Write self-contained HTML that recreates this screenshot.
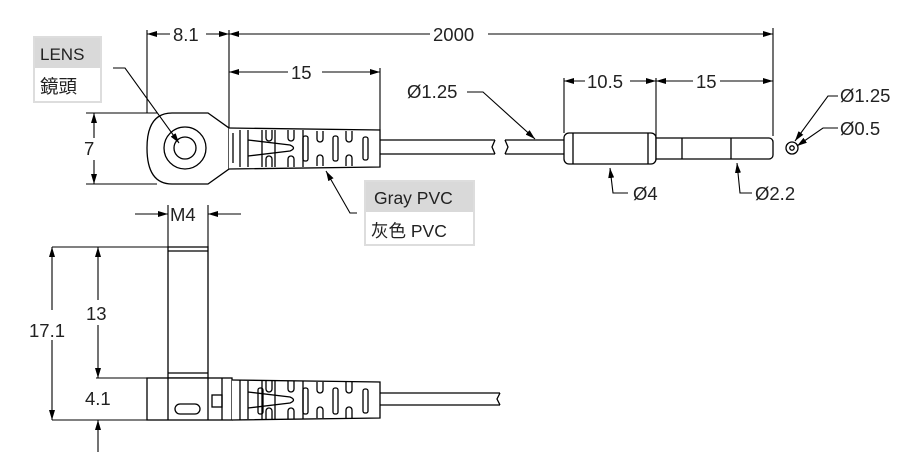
<!DOCTYPE html>
<html><head><meta charset="utf-8"><style>
html,body{margin:0;padding:0;background:#fff;}
svg{display:block;}
text{font-family:"Liberation Sans","Noto Sans CJK TC",sans-serif;fill:#222;}
</style></head><body>
<svg width="904" height="465" viewBox="0 0 904 465" xmlns="http://www.w3.org/2000/svg">
<defs>
<marker id="a" viewBox="0 0 10 6" refX="10" refY="3" markerWidth="10" markerHeight="6" orient="auto-start-reverse" markerUnits="userSpaceOnUse"><path d="M0,0 L10,3 L0,6 z" fill="#000"/></marker>
</defs>
<g stroke="#000" stroke-width="1.3" fill="none">
<!-- top view head -->
<path d="M172,113 L208,113 L229,128 L229,169 L208,184 L172,184 Q147,184 147,148 Q147,113 172,113 Z" fill="#fff"/>
<circle cx="185" cy="148" r="21"/>
<circle cx="185" cy="148" r="11"/>
<!-- boot top -->
<path d="M229,128 L380,130 L380,167 L229,169" fill="#fff"/>
<path d="M233,133 v30 M240,130 v37 M248,130 v37 M262,130 v37 M275,130 v37 M303,130 v37"/>
<path d="M248,140 L290,145 Q297,148 290,151 L248,156"/>
<path d="M266,130 v8 a3,3 0 0 0 6,0 v-8 M266,167 v-8 a3,3 0 0 1 6,0 v8 M288,130 v8 a3,3 0 0 0 6,0 v-8 M288,167 v-8 a3,3 0 0 1 6,0 v8 M317,131 v8 a3,3 0 0 0 6,0 v-8 M317,166 v-8 a3,3 0 0 1 6,0 v8 M346,131 v8 a3,3 0 0 0 6,0 v-8 M346,166 v-8 a3,3 0 0 1 6,0 v8"/>
<rect x="303" y="136" width="5" height="25" rx="2"/>
<rect x="333" y="136" width="5" height="25" rx="2"/>
<rect x="363" y="137" width="5" height="23" rx="2"/>
<!-- cable -->
<path d="M380,140 H495 M380,154 H495 M495,140 L492,147 L495,154"/>
<path d="M505,140 H564 M505,154 H564 M505,140 L508,147 L505,154"/>
<rect x="564" y="133" width="92" height="31" rx="5" fill="#fff"/>
<path d="M573,133 v31 M648,133 v31"/>
<path d="M656,138 H769 a4,4 0 0 1 4,4 v13 a4,4 0 0 1 -4,4 H656 Z" fill="#fff"/>
<path d="M682,138 v21 M731,138 v21"/>
<circle cx="792" cy="148" r="6"/><circle cx="792" cy="148" r="2.2"/>
<!-- bottom view -->
<path d="M168,247 H208 V378 H168 Z" fill="#fff"/>
<path d="M168,251 H208 M168,373 H208"/>
<rect x="147" y="378" width="85" height="42" fill="#fff"/>
<path d="M168,378 v42 M208,378 v42 M222,378 v42"/>
<rect x="175" y="404" width="25" height="10" rx="5"/>
<rect x="212" y="395" width="10" height="12"/>
<path d="M232,380 L380,382 L380,418 L232,420" fill="#fff"/>
<path d="M240,380 v40 M248,381 v38 M262,381 v38 M275,381 v38 M303,381 v38"/>
<path d="M248,392 L290,397 Q297,400 290,403 L248,408"/>
<path d="M266,381 v8 a3,3 0 0 0 6,0 v-8 M266,419 v-8 a3,3 0 0 1 6,0 v8 M288,381 v8 a3,3 0 0 0 6,0 v-8 M288,419 v-8 a3,3 0 0 1 6,0 v8 M317,382 v8 a3,3 0 0 0 6,0 v-8 M317,418 v-8 a3,3 0 0 1 6,0 v8 M346,382 v8 a3,3 0 0 0 6,0 v-8 M346,418 v-8 a3,3 0 0 1 6,0 v8"/>
<rect x="258" y="388" width="5" height="26" rx="2"/>
<rect x="303" y="388" width="5" height="26" rx="2"/>
<rect x="333" y="388" width="5" height="26" rx="2"/>
<rect x="363" y="389" width="5" height="24" rx="2"/>
<path d="M380,393 H500 M380,405 H500 M500,393 L497,399 L500,405"/>
</g>
<!-- dimension lines -->
<g stroke="#000" stroke-width="1.1" fill="none">
<path d="M147,30 V113 M229,30 V128 M380,68 V130 M564,78 V133 M656,78 V138 M773,28 V136"/>
<path d="M147,34 H170" marker-start="url(#a)"/><path d="M206,34 H229" marker-end="url(#a)"/>
<path d="M229,34 H430" marker-start="url(#a)"/><path d="M488,34 H773" marker-end="url(#a)"/>
<path d="M229,72 H288" marker-start="url(#a)"/><path d="M322,72 H380" marker-end="url(#a)"/>
<path d="M564,81 H585" marker-start="url(#a)"/><path d="M630,81 H656" marker-end="url(#a)"/>
<path d="M656,81 H693" marker-start="url(#a)"/><path d="M720,81 H773" marker-end="url(#a)"/>
<path d="M86,113 H157 M86,184 H157"/>
<path d="M94,138 V113" marker-end="url(#a)"/><path d="M94,160 V184" marker-end="url(#a)"/>
<!-- leaders -->
<path d="M113,68 H125 L179,143" marker-end="url(#a)"/>
<path d="M357,213 H350 L326,171" marker-end="url(#a)"/>
<path d="M467,92 H483 L535,139" marker-end="url(#a)"/>
<path d="M628,193 H613 L610,168" marker-end="url(#a)"/>
<path d="M752,193 H740 L737,163" marker-end="url(#a)"/>
<path d="M838,96 H828 L795,141" marker-end="url(#a)"/>
<path d="M838,128 H823 L797,146" marker-end="url(#a)"/>
<!-- bottom dims -->
<path d="M168,205 V247 M208,205 V247"/>
<path d="M135,214 H168" marker-end="url(#a)"/><path d="M241,214 H208" marker-end="url(#a)"/>
<path d="M52,247 H168 M52,420 H147 M96,378 H147"/>
<path d="M52,310 V247" marker-end="url(#a)"/><path d="M52,340 V420" marker-end="url(#a)"/>
<path d="M98,300 V247" marker-end="url(#a)"/><path d="M98,325 V378" marker-end="url(#a)"/>
<path d="M98,452 V420" marker-end="url(#a)"/>
</g>
<!-- label boxes -->
<rect x="34" y="37" width="67" height="65" fill="#fff" stroke="#ddd" stroke-width="2"/>
<rect x="35" y="38" width="65" height="30" fill="#d9d9d9"/>
<rect x="365" y="181" width="109" height="64" fill="#fff" stroke="#ddd" stroke-width="2"/>
<rect x="366" y="182" width="107" height="30" fill="#d9d9d9"/>
<g font-size="18.5">
<text x="40" y="60" font-size="17">LENS</text>
<text x="40" y="93">鏡頭</text>
<text x="374" y="204" font-size="17.5">Gray PVC</text>
<text x="371" y="237" font-size="17.5">灰色 PVC</text>
<text x="173" y="41">8.1</text>
<text x="433" y="41">2000</text>
<text x="291" y="79">15</text>
<text x="587" y="88">10.5</text>
<text x="696" y="88">15</text>
<text x="84" y="155">7</text>
<text x="407" y="98">Ø1.25</text>
<text x="633" y="200">Ø4</text>
<text x="755" y="200">Ø2.2</text>
<text x="840" y="102">Ø1.25</text>
<text x="840" y="135">Ø0.5</text>
<text x="170" y="221">M4</text>
<text x="29" y="337">17.1</text>
<text x="86" y="320">13</text>
<text x="85" y="405">4.1</text>
</g>
</svg>
</body></html>
